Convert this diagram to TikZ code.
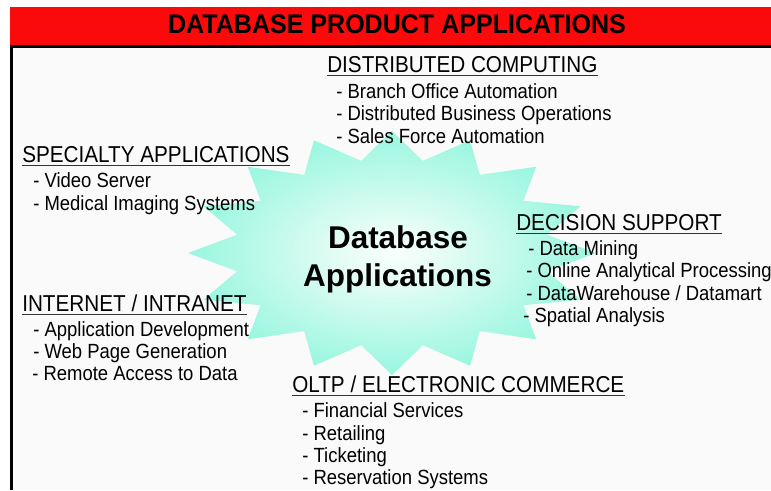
\documentclass[tikz,border=0pt]{standalone}
\usepackage{fontspec}
\setmainfont{Liberation Sans}
\newfontfamily\listfont{Liberation Sans}[FakeStretch=0.9]
\newfontfamily\bannerfont{Liberation Sans}[FakeStretch=0.93]

% soft aqua glow: pale centre, saturated points
\pgfdeclareradialshading{starglow}{\pgfpoint{0bp}{0bp}}{%
  rgb(0bp)=(0.97,1,0.99);
  rgb(6bp)=(0.90,0.99,0.96);
  rgb(26bp)=(0.58,0.965,0.87);
  rgb(36bp)=(0.50,0.96,0.85);
  rgb(50bp)=(0.50,0.96,0.85)}

\definecolor{titlered}{RGB}{250,10,10}

\begin{document}
\begin{tikzpicture}[x=0.75pt,y=-0.75pt,
  txt/.style={inner sep=0pt, anchor=base west, text=black},
  heading/.style={txt, font=\listfont\fontsize{17.25pt}{20pt}\selectfont},
  entry/.style={txt, font=\listfont\fontsize{15.4pt}{18pt}\selectfont},
  core/.style={inner sep=0pt, anchor=base, text=black,
    font=\bfseries\fontsize{23.6pt}{28pt}\selectfont},
  uline/.style={line width=0.8pt, draw=black!80},
  frame/.style={line width=2.4pt, draw=black}]

\useasboundingbox (0,0) rectangle (771,490);
\fill[white] (0,0) rectangle (771,490);
\fill[black!2] (11,46) rectangle (771,490);

% sixteen-point star
\shade[shading=starglow] (596,253)
  \foreach \k in {0,...,15}{
    -- ({392+158*cos(\k*22.5+11.25)},{253-94*sin(\k*22.5+11.25)})
    -- ({392+204*cos(\k*22.5+22.5)},{253-122*sin(\k*22.5+22.5)})
  } -- cycle;

% title bar and frame
\fill[titlered] (10,7) rectangle (771,45);
\draw[frame] (10,46.5) -- (771,46.5);
\draw[frame] (11.5,45.5) -- (11.5,490);
\node (title) [inner sep=0pt, anchor=base,
  font=\bannerfont\bfseries\fontsize{20.2pt}{22pt}\selectfont] at (397,33)
  {DATABASE PRODUCT APPLICATIONS};

% centre caption
\node (core1) [core] at (398,248) {Database};
\node (core2) [core] at (397.5,286) {Applications};

% distributed computing
\node (dc) [heading] at (327,72) {DISTRIBUTED COMPUTING};
\node (dc1) [entry] at (336,98) {- Branch Office Automation};
\node (dc2) [entry] at (336,120.5) {- Distributed Business Operations};
\node (dc3) [entry] at (336,143) {- Sales Force Automation};

% specialty applications
\node (sp) [heading] at (22,162) {SPECIALTY APPLICATIONS};
\node (sp1) [entry] at (33,187.5) {- Video Server};
\node (sp2) [entry] at (33,210) {- Medical Imaging Systems};

% decision support
\node (ds) [heading] at (516,230) {DECISION SUPPORT};
\node (ds1) [entry] at (528,255) {- Data Mining};
\node (ds2) [entry] at (526,277.5) {- Online Analytical Processing};
\node (ds3) [entry] at (526,300) {- DataWarehouse / Datamart};
\node (ds4) [entry] at (523,322) {- Spatial Analysis};

% internet / intranet
\node (in) [heading] at (22,311) {INTERNET / INTRANET};
\node (in1) [entry] at (33,336) {- Application Development};
\node (in2) [entry] at (33,358) {- Web Page Generation};
\node (in3) [entry] at (32,380) {- Remote Access to Data};

% oltp / electronic commerce
\node (ol) [heading] at (292,392) {OLTP / ELECTRONIC COMMERCE};
\node (ol1) [entry] at (302,417) {- Financial Services};
\node (ol2) [entry] at (302,440) {- Retailing};
\node (ol3) [entry] at (302,462) {- Ticketing};
\node (ol4) [entry] at (302,484) {- Reservation Systems};

% heading underlines
\foreach \h in {dc,sp,ds,in,ol}
  \draw[uline] ([yshift=-2.4pt]\h.base west) -- ([yshift=-2.4pt]\h.base east);
\end{tikzpicture}
\end{document}
